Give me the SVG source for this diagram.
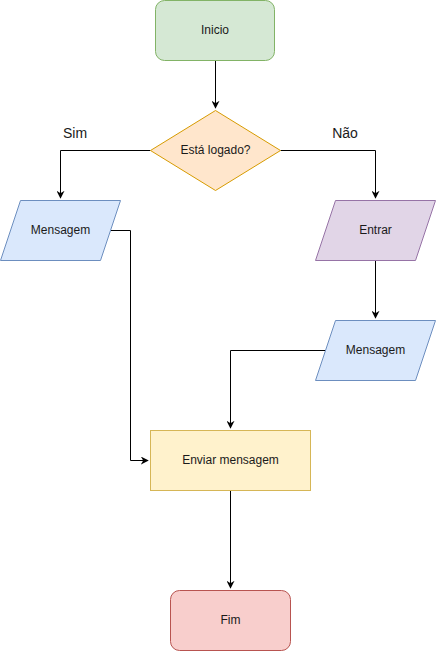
<svg xmlns="http://www.w3.org/2000/svg" width="436" height="651" viewBox="0 0 436 651">
<defs>
<marker id="arr" viewBox="0 0 10 10" refX="9" refY="5" markerWidth="8" markerHeight="8" markerUnits="userSpaceOnUse" orient="auto">
<path d="M0,0 L10,5 L0,10 L3,5 Z" fill="#000"/>
</marker>
<style>
text{font-family:"Liberation Sans",Arial,sans-serif;font-size:12px;fill:#1a1a1a;text-anchor:middle;dominant-baseline:central}
.lbl{font-size:14px}
.c{fill:none;stroke:#000;stroke-width:1}
</style>
</defs>
<rect width="436" height="651" fill="#fff"/>
<g id="connectors">
<path class="c" d="M215.5,60.5 V108" marker-end="url(#arr)"/>
<path class="c" d="M150.5,150.5 H60.5 V198" marker-end="url(#arr)"/>
<path class="c" d="M280.5,150.5 H375.5 V198" marker-end="url(#arr)"/>
<path class="c" d="M375.5,260.5 V318" marker-end="url(#arr)"/>
<path class="c" d="M110,230.5 H130.5 V460.5 H148" marker-end="url(#arr)"/>
<path class="c" d="M325,350.5 H230.5 V428" marker-end="url(#arr)"/>
<path class="c" d="M230.5,490.5 V588" marker-end="url(#arr)"/>
<text class="lbl" x="75" y="133">Sim</text>
<text class="lbl" x="345" y="133">Não</text>
</g>
<g id="inicio">
<rect x="155.5" y="0.5" width="119" height="60" rx="9" fill="#d5e8d4" stroke="#82b366"/>
<text x="215" y="29.5">Inicio</text>
</g>
<g id="logado">
<polygon points="215.5,110.5 280.5,150.5 215.5,190.5 150.5,150.5" fill="#ffe6cc" stroke="#d79b00"/>
<text x="215.5" y="149.5">Está logado?</text>
</g>
<g id="msg1">
<polygon points="20.5,200.5 120.5,200.5 100.5,260.5 0.5,260.5" fill="#dae8fc" stroke="#6c8ebf"/>
<text x="60.5" y="229.5">Mensagem</text>
</g>
<g id="entrar">
<polygon points="335.5,200.5 435.5,200.5 415.5,260.5 315.5,260.5" fill="#e1d5e7" stroke="#9673a6"/>
<text x="375.5" y="229.5">Entrar</text>
</g>
<g id="msg2">
<polygon points="335.5,320.5 435.5,320.5 415.5,380.5 315.5,380.5" fill="#dae8fc" stroke="#6c8ebf"/>
<text x="375.5" y="349.5">Mensagem</text>
</g>
<g id="enviar">
<rect x="150.5" y="430.5" width="160" height="60" fill="#fff2cc" stroke="#d6b656"/>
<text x="230.5" y="459.5">Enviar mensagem</text>
</g>
<g id="fim">
<rect x="170.5" y="590.5" width="120" height="60" rx="9" fill="#f8cecc" stroke="#b85450"/>
<text x="230.5" y="619.5">Fim</text>
</g>
</svg>
